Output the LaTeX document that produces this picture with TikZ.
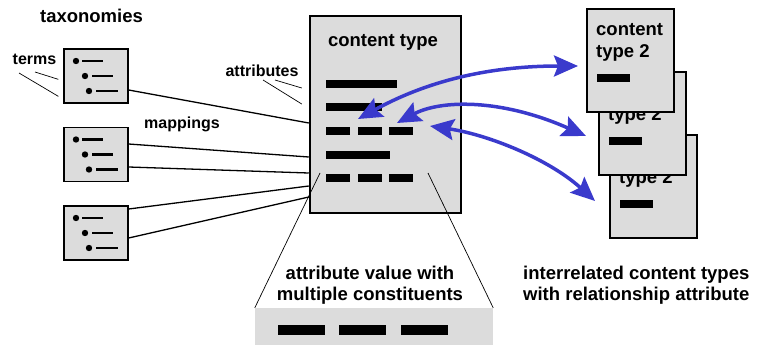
\documentclass[tikz,border=0pt]{standalone}
\usepackage{fontspec}
\setmainfont{Liberation Sans}
\usetikzlibrary{arrows.meta}
\definecolor{boxgray}{RGB}{220,220,220}
\definecolor{relblue}{RGB}{58,58,204}
\newcommand{\bigtext}{\fontsize{18.5}{21}\selectfont\bfseries}
\newcommand{\smalltext}{\fontsize{16}{19}\selectfont\bfseries}

\begin{document}
\begin{tikzpicture}[x=1pt,y=-1pt,
	taxbox/.style={draw, line width=1.3pt, fill=boxgray, minimum width=64pt, minimum height=54pt, inner sep=0pt},
	ctbox/.style={draw, line width=2.5pt, fill=boxgray, inner sep=0pt},
	link/.style={line width=1.3pt},
	pointer/.style={line width=0.7pt},
	term/.style={line width=2.5pt},
	rel/.style={draw=relblue, line width=3.5pt,
		{Stealth[length=24pt,width=21pt,inset=4pt]}-{Stealth[length=24pt,width=21pt,inset=4pt]}},
	biglabel/.style={font=\bigtext, inner sep=0pt, anchor=base},
	smalllabel/.style={font=\smalltext, inner sep=0pt, anchor=base}]
	\useasboundingbox (0,0) rectangle (776,345);

	% taxonomies
	\node (taxlbl) at (91.5,23)	[biglabel]	{taxonomies};
	\foreach \n/\y in {1/76,2/154.5,3/233} {
		\node (tax\n) at (96,\y)	[taxbox]	{};
		\begin{scope}[shift={(64,\y-27)}]
			\fill (12,12) circle (3.2pt);
			\fill (21,27) circle (3.2pt);
			\fill (25,42) circle (3.2pt);
			\draw[term] (18,12) -- (39,12);
			\draw[term] (28,27) -- (49,27);
			\draw[term] (32,42) -- (54,42);
		\end{scope}
	}
	\node (terms) at (34.5,65)	[smalllabel]	{terms};
	\coordinate (t1) at (19,73);
	\coordinate (t2) at (35,72);
	\draw[pointer] (t1) -- ([xshift=-5pt,yshift=-48pt]tax1.north west);
	\draw[pointer] (t2) -- ([xshift=-5pt,yshift=-31pt]tax1.north west);

	% content type
	\node (ct) at (385.5,114.5)	[ctbox, minimum width=151pt, minimum height=197pt]	{};
	\node (ctlbl) at (383,47)	[biglabel]	{content type};
	\fill (326,80) rectangle (397,88);
	\fill (326,103) rectangle (382,111);
	\fill (326,151) rectangle (390,159);
	\foreach \x in {326,358,389} {
		\fill (\x,127) rectangle ++(24,8);
		\fill (\x,174) rectangle ++(24,8);
	}
	\node (attr) at (262,76)	[smalllabel]	{attributes};
	\coordinate (a1) at (263,80);
	\coordinate (a2) at (275,80);
	\draw[pointer] (a1) -- ([xshift=-7pt,yshift=10.5pt]ct.west);
	\draw[pointer] (a2) -- ([xshift=-7pt,yshift=26.5pt]ct.west);

	% mappings
	\node (map) at (182,128)	[smalllabel]	{mappings};
	\draw[link] ([yshift=-14pt]tax1.east) -- ([yshift=-8.5pt]ct.west);
	\draw[link] ([yshift=10.5pt]tax2.east) -- ([yshift=-42.5pt]ct.west);
	\draw[link] ([yshift=-12.5pt]tax2.east) -- ([yshift=-58.5pt]ct.west);
	\draw[link] ([yshift=24pt]tax3.east) -- ([yshift=-71.5pt]ct.west);
	\draw[link] ([yshift=-5pt]tax3.east) -- ([yshift=-82.5pt]ct.west);

	% attribute value
	\node (av) at (374,326.5)	[fill=boxgray, minimum width=238pt, minimum height=37pt, inner sep=0pt]	{};
	\foreach \x in {278,339,401}
		\fill (\x,325) rectangle ++(47,10);
	\coordinate (zl) at (320,173);
	\coordinate (zr) at (428,173);
	\draw[pointer] (zl) -- (av.north west);
	\draw[pointer] (zr) -- (av.north east);
	\node (avlbl) at (370,300)	[biglabel, align=center]	{attribute value with\\multiple constituents};

	% content type 2
	\foreach \n/\dx/\dy in {c/23/126, b/12/63, a/0/0} {
		\begin{scope}[shift={(\dx,\dy)}]
			\node (ct2\n) at (630.5,60.5)	[ctbox, minimum width=87pt, minimum height=103pt]	{};
			\node (ct2\n lbl) at (596,57)	[biglabel, anchor=base west, align=left]	{content\\type 2};
			\fill (597,74) rectangle (630,82);
		\end{scope}
	}
	\node (rellbl) at (523,300)	[biglabel, anchor=base west, align=left]	{interrelated content types\\with relationship attribute};

	% relationships
	\coordinate (r1a) at (358,119);
	\coordinate (r1b) at (578,66);
	\coordinate (r2a) at (397,123);
	\coordinate (r2b) at (586,136);
	\coordinate (r3a) at (430,126);
	\coordinate (r3b) at (595,201);
	\draw[rel] (r1a) .. controls (420,85) and (480,66) .. (r1b);
	\draw[rel] (r2a) .. controls (440,100) and (500,98) .. (r2b);
	\draw[rel] (r3a) .. controls (490,135) and (550,160) .. (r3b);
\end{tikzpicture}
\end{document}
